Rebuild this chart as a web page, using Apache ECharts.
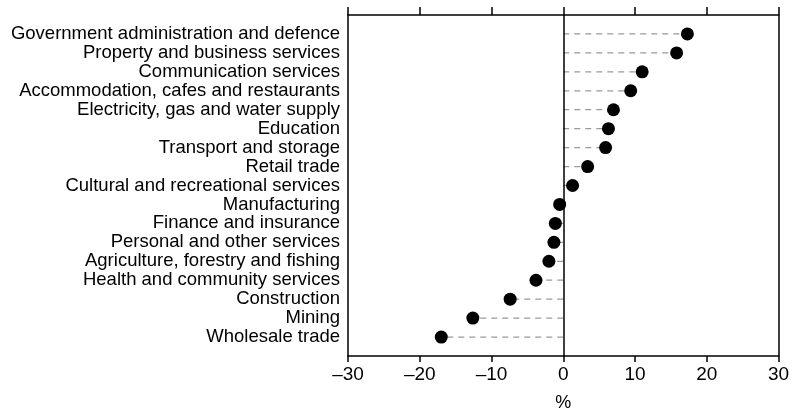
<!DOCTYPE html>
<html><head><meta charset="utf-8">
<script src="https://cdn.jsdelivr.net/npm/echarts@6/dist/echarts.min.js"></script>
<style>html,body{margin:0;padding:0;background:#fff}#c{width:796px;height:417px}</style>
</head><body><div id="c"></div>
<script>
const categories = [
  "Government administration and defence",
  "Property and business services",
  "Communication services",
  "Accommodation, cafes and restaurants",
  "Electricity, gas and water supply",
  "Education",
  "Transport and storage",
  "Retail trade",
  "Cultural and recreational services",
  "Manufacturing",
  "Finance and insurance",
  "Personal and other services",
  "Agriculture, forestry and fishing",
  "Health and community services",
  "Construction",
  "Mining",
  "Wholesale trade"
];
const values = [17.3, 15.8, 11.0, 9.4, 7.0, 6.3, 5.9, 3.4, 1.3, -0.5, -1.1, -1.3, -2.0, -3.8, -7.4, -12.6, -17.0];
const xTicks = [-30, -20, -10, 0, 10, 20, 30];
const xTitle = "%";

const n = categories.length;
const pts = values.map((v, i) => [v, n - i]);
const labelFor = (val) => {
  const idx = n - Math.round(val);
  return (Math.abs(val - Math.round(val)) < 1e-6 && idx >= 0 && idx < n) ? categories[idx] : '';
};
const font = '"Liberation Sans", Arial, sans-serif';
const line = {show: true, onZero: false, lineStyle: {color: '#000', width: 1.5}};
const chart = echarts.init(document.getElementById('c'), null, {renderer: 'canvas'});
chart.setOption({
  animation: false,
  grid: {left: 348, right: 17.5, top: 15, bottom: 60.5},
  xAxis: [{
    type: 'value', position: 'bottom', min: xTicks[0], max: xTicks[xTicks.length - 1], interval: 10,
    axisLine: line,
    axisTick: {show: true, length: 6, lineStyle: {color: '#000', width: 1.5}},
    splitLine: {show: false},
    axisLabel: {color: '#000', fontSize: 19, fontFamily: font, margin: 9,
      formatter: v => xTicks.includes(v) ? String(v).replace('-', '\u2013') : ''},
    name: xTitle, nameLocation: 'middle', nameGap: 38,
    nameTextStyle: {color: '#000', fontSize: 18, fontFamily: font}
  }, {
    type: 'value', position: 'top', min: xTicks[0], max: xTicks[xTicks.length - 1], interval: 10,
    axisLine: line,
    axisTick: {show: true, length: 8, lineStyle: {color: '#000', width: 1.5}},
    splitLine: {show: false}, axisLabel: {show: false}
  }],
  yAxis: [{
    type: 'value', position: 'left', min: 0, max: n + 1, interval: 1,
    axisLine: line,
    axisTick: {show: false}, splitLine: {show: false},
    axisLabel: {color: '#000', fontSize: 18.5, fontFamily: font, margin: 8, formatter: labelFor,
      lineHeight: 18}
  }, {
    type: 'value', position: 'right', min: 0, max: n + 1, interval: 1,
    axisLine: line,
    axisTick: {show: false}, splitLine: {show: false}, axisLabel: {show: false}
  }],
  series: [{
    type: 'custom',
    renderItem: (params, api) => {
      const p0 = api.coord([0, api.value(1)]);
      const p1 = api.coord([api.value(0), api.value(1)]);
      return {type: 'line', shape: {x1: p0[0], y1: p0[1], x2: p1[0], y2: p1[1]},
        style: {stroke: '#9a9a9a', lineWidth: 1.2, lineDash: [6, 5]}};
    },
    data: pts, z: 1, silent: true
  }, {
    type: 'scatter', data: pts, symbol: 'circle', symbolSize: 13,
    itemStyle: {color: '#000', opacity: 1}, z: 3,
    markLine: {silent: true, symbol: 'none', label: {show: false},
      lineStyle: {color: '#000', type: 'solid', width: 1.5},
      data: [{xAxis: 0}]}
  }]
});
</script></body></html>
